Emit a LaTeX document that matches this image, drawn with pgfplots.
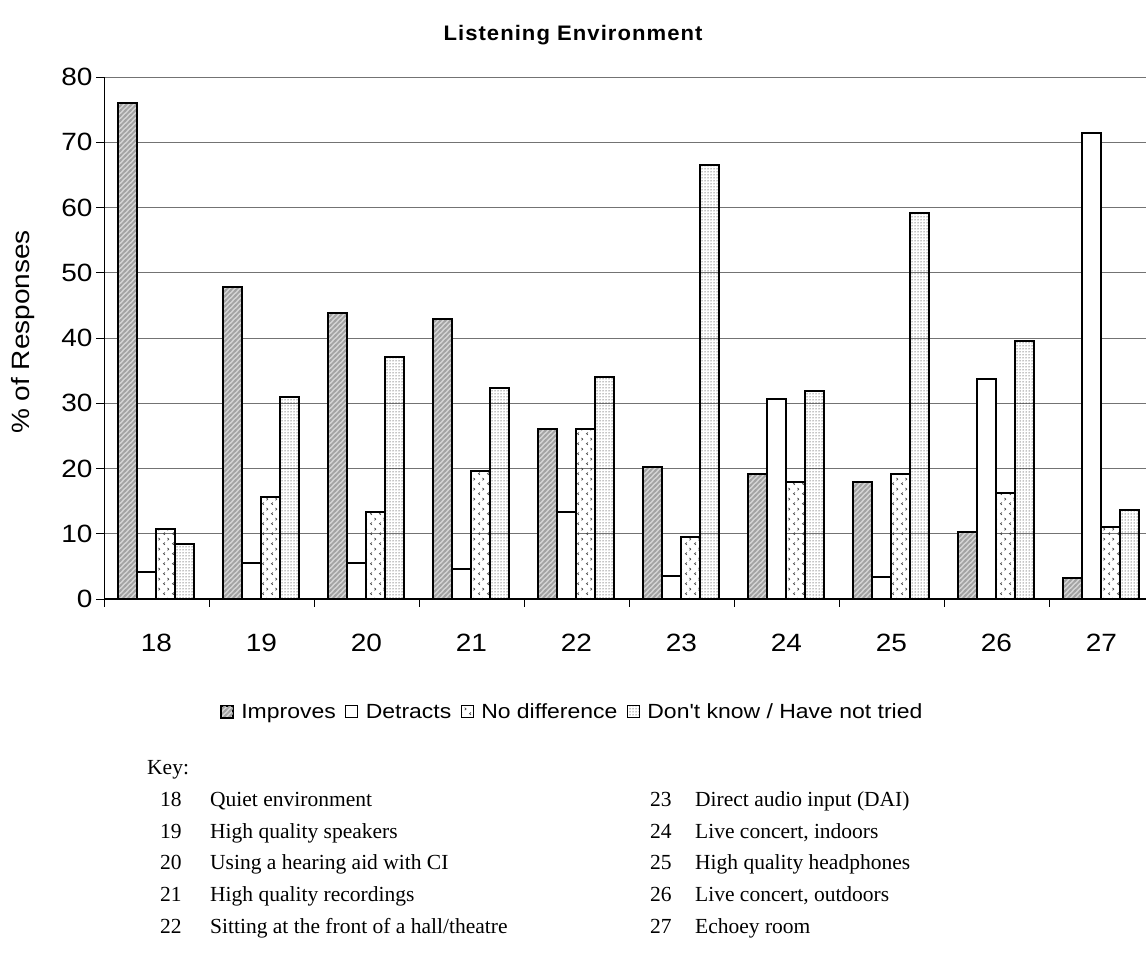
\documentclass[border=0pt]{standalone}
\usepackage{pgfplots}
\pgfplotsset{compat=1.18}
\usepackage{fontspec}
\setmainfont{Liberation Sans}
\newfontfamily\chartfont[FakeStretch=1.12,Ligatures=TeXOff]{Liberation Sans}
\newfontfamily\titlefont[FakeStretch=1.05,LetterSpace=5]{Liberation Sans}
\newfontfamily\keyfont{Liberation Serif}
\usetikzlibrary{patterns}

% wide diagonal hatching for "Improves"
\pgfdeclarepatternformonly{widehatch}{\pgfqpoint{-1pt}{-1pt}}{\pgfqpoint{6pt}{6pt}}{\pgfqpoint{5pt}{5pt}}{%
  \pgfsetlinewidth{1.5pt}%
  \pgfpathmoveto{\pgfqpoint{-1pt}{-1pt}}\pgfpathlineto{\pgfqpoint{6pt}{6pt}}%
  \pgfpathmoveto{\pgfqpoint{-1pt}{4pt}}\pgfpathlineto{\pgfqpoint{1pt}{6pt}}%
  \pgfpathmoveto{\pgfqpoint{4pt}{-1pt}}\pgfpathlineto{\pgfqpoint{6pt}{1pt}}%
  \pgfusepath{stroke}}
% small chevrons for "No difference"
\pgfdeclarepatternformonly{chevrons}{\pgfqpoint{0pt}{0pt}}{\pgfqpoint{9pt}{10pt}}{\pgfqpoint{9pt}{10pt}}{%
  \pgfsetlinewidth{0.7pt}%
  \pgfpathmoveto{\pgfqpoint{3.2pt}{1.2pt}}\pgfpathlineto{\pgfqpoint{1.6pt}{2.5pt}}\pgfpathlineto{\pgfqpoint{3.2pt}{3.8pt}}%
  \pgfpathmoveto{\pgfqpoint{6pt}{6.2pt}}\pgfpathlineto{\pgfqpoint{7.6pt}{7.5pt}}\pgfpathlineto{\pgfqpoint{6pt}{8.8pt}}%
  \pgfusepath{stroke}}

\pgfplotstableread{
cat improves detracts nodiff dontknow
0   76.0  4.2  10.7  8.5
1   47.8  5.5  15.6  30.9
2   43.8  5.5  13.4  37.1
3   42.9  4.6  19.6  32.4
4   26.0  13.4 26.0  34.0
5   20.2  3.6  9.5   66.5
6   19.2  30.6 18.0  31.8
7   18.0  3.3  19.2  59.1
8   10.3  33.7 16.2  39.5
9   3.2   71.4 11.1  13.6
}\responses

\tikzset{
  improvesbar/.style={preaction={fill=black!17}, pattern=widehatch, pattern color=black!36},
  detractsbar/.style={fill=white},
  nodiffbar/.style={pattern=chevrons, pattern color=black!75},
  dontknowbar/.style={pattern=dots, pattern color=black},
  keybox/.style={line width=0.8pt, black},
}
\newcommand\keysquare[1]{\draw[keybox,#1] (0pt,-6pt) rectangle (12pt,6pt); \path (-1pt,0pt) (17pt,0pt);}

\begin{document}
\begin{tikzpicture}
\useasboundingbox (0pt,0pt) rectangle (1146pt,976pt);

\node[font=\titlefont\bfseries\fontsize{21}{24}\selectfont] at (573pt,941pt) {Listening Environment};
\node[rotate=90,font=\chartfont\fontsize{25}{30}\selectfont] at (23pt,644pt) {\% of Responses};

\begin{axis}[
  at={(104pt,377pt)}, anchor=south west,
  scale only axis, width=1042pt, height=522pt,
  xmin=-0.5, xmax=9.424, ymin=0, ymax=80,
  ybar=0pt, bar width=19pt,
  axis x line*=bottom, axis y line*=left,
  x axis line style={-, black, line width=1.6pt},
  y axis line style={-, black, line width=0.9pt},
  ytick={0,10,...,80},
  ymajorgrids,
  grid style={draw=black!55, line width=0.9pt},
  tick align=outside,
  major tick length=8pt,
  tick style={black, line width=0.8pt},
  xtick={-0.5,0.5,...,9.5}, xticklabels={},
  extra x ticks={0,...,9},
  extra x tick labels={18,19,20,21,22,23,24,25,26,27},
  extra x tick style={major tick length=0pt, grid=none},
  /pgf/number format/assume math mode=true,
  ticklabel style={font=\chartfont\fontsize{25}{30}\selectfont},
  xticklabel style={yshift=-32pt},
  clip=false,
  legend style={at={(rel axis cs:0.449,-0.216)}, anchor=center, draw=none,
    font=\chartfont\fontsize{20.5}{24}\selectfont, legend columns=-1,
    /tikz/every even column/.append style={column sep=6pt}},
]
\addplot[draw=black, line width=2pt, improvesbar,
  legend image code/.code={\keysquare{improvesbar}}]
  table[x=cat, y=improves] {\responses};
\addplot[draw=black, line width=2pt, detractsbar,
  legend image code/.code={\keysquare{detractsbar}}]
  table[x=cat, y=detracts] {\responses};
\addplot[draw=black, line width=2pt, nodiffbar,
  legend image code/.code={\keysquare{nodiffbar}}]
  table[x=cat, y=nodiff] {\responses};
\addplot[draw=black, line width=2pt, dontknowbar,
  legend image code/.code={\keysquare{dontknowbar}}]
  table[x=cat, y=dontknow] {\responses};
\legend{Improves, Detracts, No difference, Don't know / Have not tried}
\end{axis}

% key to the statement numbers
\begin{scope}[every node/.style={anchor=base west, inner sep=0pt,
    font=\keyfont\fontsize{21.5}{26}\selectfont}]
\node at (147pt,201pt) {Key:};
\node at (160pt,169pt) {18}; \node at (210pt,169pt) {Quiet environment};
\node at (160pt,137pt) {19}; \node at (210pt,137pt) {High quality speakers};
\node at (160pt,106pt) {20}; \node at (210pt,106pt) {Using a hearing aid with CI};
\node at (160pt,74pt)  {21}; \node at (210pt,74pt)  {High quality recordings};
\node at (160pt,42pt)  {22}; \node at (210pt,42pt)  {Sitting at the front of a hall/theatre};
\node at (650pt,169pt) {23}; \node at (695pt,169pt) {Direct audio input (DAI)};
\node at (650pt,137pt) {24}; \node at (695pt,137pt) {Live concert, indoors};
\node at (650pt,106pt) {25}; \node at (695pt,106pt) {High quality headphones};
\node at (650pt,74pt)  {26}; \node at (695pt,74pt)  {Live concert, outdoors};
\node at (650pt,42pt)  {27}; \node at (695pt,42pt)  {Echoey room};
\end{scope}
\end{tikzpicture}
\end{document}
